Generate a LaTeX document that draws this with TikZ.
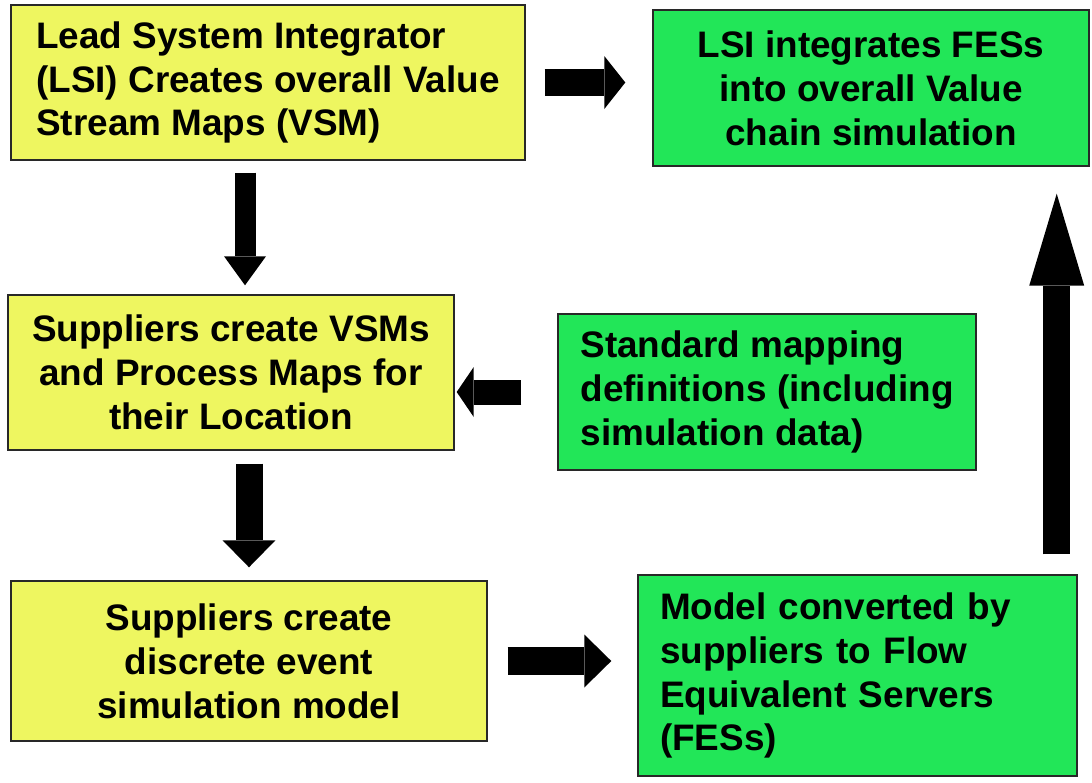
\documentclass[tikz,border=0pt]{standalone}
\usepackage{fontspec}
\setmainfont{Liberation Sans}
\usetikzlibrary{arrows.meta}
\definecolor{StepYellow}{RGB}{238,246,96}
\definecolor{StepGreen}{RGB}{34,230,88}
\definecolor{EdgeGray}{RGB}{40,40,40}
\tikzset{
  yellowstep/.style={draw=EdgeGray,fill=StepYellow,line width=0.3mm,inner sep=0pt,align=center,font=\bfseries\fontsize{21}{25}\selectfont},
  greenstep/.style={draw=EdgeGray,fill=StepGreen,line width=0.3mm,inner sep=0pt,align=center,font=\bfseries\fontsize{21}{25}\selectfont},
  flowarrow/.style args={#1/#2/#3}{line width=#1,draw=black,-{Triangle[length=#2,width=#3,line width=0pt]}}
}

\begin{document}
\begin{tikzpicture}[x=0.02cm,y=-0.02cm]
\useasboundingbox (0,0) rectangle (1092,782);
\node[yellowstep, minimum width=10.28cm, minimum height=3.1cm, align=left] (lsi) at (268,82.5) {Lead System Integrator\\(LSI) Creates overall Value\\Stream Maps (VSM)};
\node[greenstep, minimum width=8.72cm, minimum height=3.12cm] (integ) at (871,88) {LSI integrates FESs\\into overall Value\\chain simulation};
\node[yellowstep, minimum width=8.92cm, minimum height=3.1cm] (supvsm) at (231,372.5) {Suppliers create VSMs\\and Process Maps for\\their Location};
\node[greenstep, minimum width=8.36cm, minimum height=3.12cm, align=left] (stddef) at (767,392) {Standard mapping\\definitions (including\\simulation data)};
\node[yellowstep, minimum width=9.52cm, minimum height=3.2cm] (desmodel) at (249,661) {Suppliers create\\discrete event\\simulation model};
\node[greenstep, minimum width=8.78cm, minimum height=4.02cm, text width=7.9cm, align=left] (fes) at (857.5,675.5) {Model converted by\\suppliers to Flow\\Equivalent Servers\\(FESs)};

\coordinate (down1) at ([xshift=-4.6mm]lsi.south);
\coordinate (up1) at ([xshift=-4.2mm]fes.north east);

\draw[flowarrow={5.4mm/4.2mm/10.6mm}, shorten <=3.8mm, shorten >=5.4mm] (lsi.east) -- (lsi.east -| integ.west);
\draw[flowarrow={4.2mm/5.8mm/8.4mm}, shorten <=2.4mm, shorten >=1.8mm] (down1) -- (down1 |- supvsm.north);
\draw[flowarrow={5.4mm/5.4mm/10.6mm}, shorten <=2.6mm, shorten >=2.6mm] (supvsm.south -| desmodel.north) -- (desmodel.north);
\draw[flowarrow={5mm/3.4mm/10mm}, shorten <=7.2mm, shorten >=0.4mm] (stddef.west) -- (stddef.west -| supvsm.east);
\draw[flowarrow={5.6mm/5.4mm/10.6mm}, shorten <=4mm, shorten >=5.2mm] (desmodel.east) -- (desmodel.east -| fes.west);
\draw[flowarrow={5.4mm/18.4mm/11mm}, shorten <=4mm, shorten >=5.4mm] (up1) -- (up1 |- integ.south);
\end{tikzpicture}
\end{document}
